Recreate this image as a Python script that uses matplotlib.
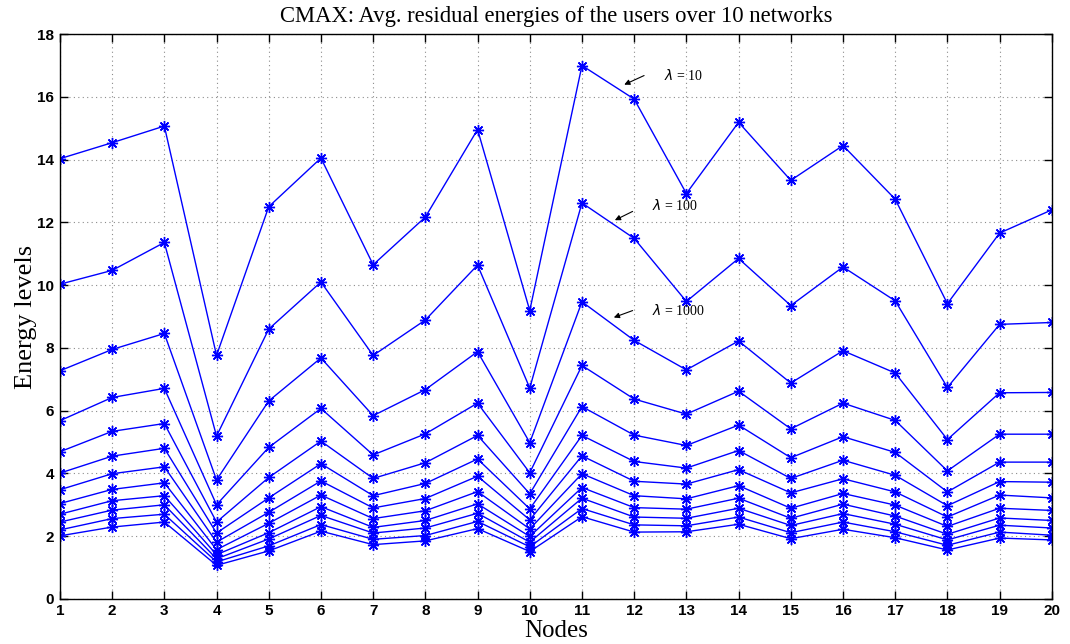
import matplotlib
matplotlib.use("Agg")
import matplotlib.pyplot as plt

nodes = list(range(1, 21))

energy_lam10 = [14.03, 14.54, 15.07, 7.76, 12.50, 14.05, 10.65, 12.17, 14.96, 9.19,
                17.00, 15.93, 12.92, 15.19, 13.34, 14.45, 12.74, 9.41, 11.66, 12.40]
energy_lam100 = [10.03, 10.47, 11.36, 5.19, 8.60, 10.10, 7.76, 8.89, 10.64, 6.72,
                 12.62, 11.49, 9.48, 10.85, 9.35, 10.58, 9.50, 6.74, 8.75, 8.81]
energy_lam1000 = [7.27, 7.95, 8.46, 3.79, 6.31, 7.68, 5.84, 6.67, 7.88, 4.98,
                  9.47, 8.24, 7.30, 8.22, 6.88, 7.91, 7.20, 5.08, 6.57, 6.58]
energy_4 = [5.68, 6.42, 6.71, 3.00, 4.83, 6.07, 4.59, 5.26, 6.24, 4.02,
            7.44, 6.37, 5.89, 6.62, 5.42, 6.24, 5.69, 4.08, 5.25, 5.25]
energy_5 = [4.69, 5.34, 5.59, 2.45, 3.87, 5.03, 3.84, 4.34, 5.21, 3.35,
            6.13, 5.22, 4.89, 5.54, 4.50, 5.17, 4.67, 3.41, 4.36, 4.36]
energy_6 = [4.01, 4.55, 4.80, 2.10, 3.22, 4.31, 3.29, 3.68, 4.46, 2.87,
            5.21, 4.38, 4.17, 4.73, 3.84, 4.42, 3.94, 2.97, 3.74, 3.72]
energy_7 = [3.48, 3.99, 4.21, 1.81, 2.76, 3.76, 2.90, 3.20, 3.91, 2.52,
            4.56, 3.75, 3.66, 4.12, 3.38, 3.83, 3.41, 2.61, 3.31, 3.22]
energy_8 = [3.04, 3.49, 3.70, 1.57, 2.41, 3.31, 2.56, 2.81, 3.42, 2.23,
            3.99, 3.29, 3.19, 3.61, 2.89, 3.36, 2.99, 2.31, 2.89, 2.82]
energy_9 = [2.70, 3.13, 3.29, 1.41, 2.11, 2.94, 2.28, 2.50, 3.03, 1.99,
            3.55, 2.91, 2.86, 3.21, 2.57, 3.02, 2.64, 2.06, 2.58, 2.50]
energy_10 = [2.45, 2.83, 3.00, 1.28, 1.91, 2.66, 2.10, 2.26, 2.73, 1.81,
             3.21, 2.61, 2.57, 2.89, 2.34, 2.72, 2.38, 1.88, 2.35, 2.26]
energy_11 = [2.20, 2.56, 2.70, 1.18, 1.69, 2.37, 1.90, 2.02, 2.47, 1.66,
             2.88, 2.36, 2.33, 2.61, 2.11, 2.45, 2.14, 1.71, 2.13, 2.03]
energy_12 = [2.01, 2.29, 2.45, 1.07, 1.53, 2.16, 1.73, 1.85, 2.24, 1.51,
             2.62, 2.13, 2.14, 2.38, 1.92, 2.22, 1.95, 1.56, 1.94, 1.88]

all_series = [energy_lam10, energy_lam100, energy_lam1000, energy_4, energy_5,
              energy_6, energy_7, energy_8, energy_9, energy_10, energy_11, energy_12]

y_ticks = [0, 2, 4, 6, 8, 10, 12, 14, 16, 18]

fig = plt.figure(figsize=(10.7, 6.44), dpi=100)
ax = fig.add_axes([0.056, 0.070, 0.927, 0.877])

# eight-spoke asterisk marker
for series in all_series:
    ax.plot(nodes, series, color=(0, 0, 1), linewidth=1.0, marker=(8, 2, 0),
            markersize=8, markeredgewidth=1.0)

ax.set_xlim(1, 20)
ax.set_ylim(0, 18)
ax.set_xticks(nodes)
ax.set_yticks(y_ticks)
ax.grid(True, color='#8c8c8c', linestyle=(0, (1, 3)), linewidth=0.8)

ax.tick_params(direction='in', length=6, width=1, top=True, right=True,
               labelsize=11, pad=4)
for lab in ax.get_xticklabels() + ax.get_yticklabels():
    lab.set_fontfamily('Liberation Sans')
    lab.set_fontweight('bold')
for sp in ax.spines.values():
    sp.set_linewidth(1.0)

serif = 'Liberation Serif'
ax.set_title('CMAX: Avg. residual energies of the users over 10 networks',
             fontfamily=serif, fontsize=16.3, pad=9)
ax.set_xlabel('Nodes', fontfamily=serif, fontsize=18, labelpad=1)
ax.set_ylabel('Energy levels', fontfamily=serif, fontsize=19, labelpad=0)

# arrows pointing at the three top curves
notes = [
    (r'$\lambda$ = 10', (11.81, 16.39), (12.19, 16.68), (12.57, 16.68)),
    (r'$\lambda$ = 100', (11.63, 12.07), (11.97, 12.35), (12.34, 12.54)),
    (r'$\lambda$ = 1000', (11.61, 8.97), (11.97, 9.19), (12.34, 9.19)),
]
for text, head, tail, tpos in notes:
    ax.annotate('', xy=head, xytext=tail,
                arrowprops=dict(arrowstyle='-|>', color='black', lw=0.8,
                                mutation_scale=8, shrinkA=0, shrinkB=0))
    ax.text(tpos[0], tpos[1], text, fontfamily=serif, fontsize=10,
            ha='left', va='center')

fig.savefig('out.png', dpi=100)
